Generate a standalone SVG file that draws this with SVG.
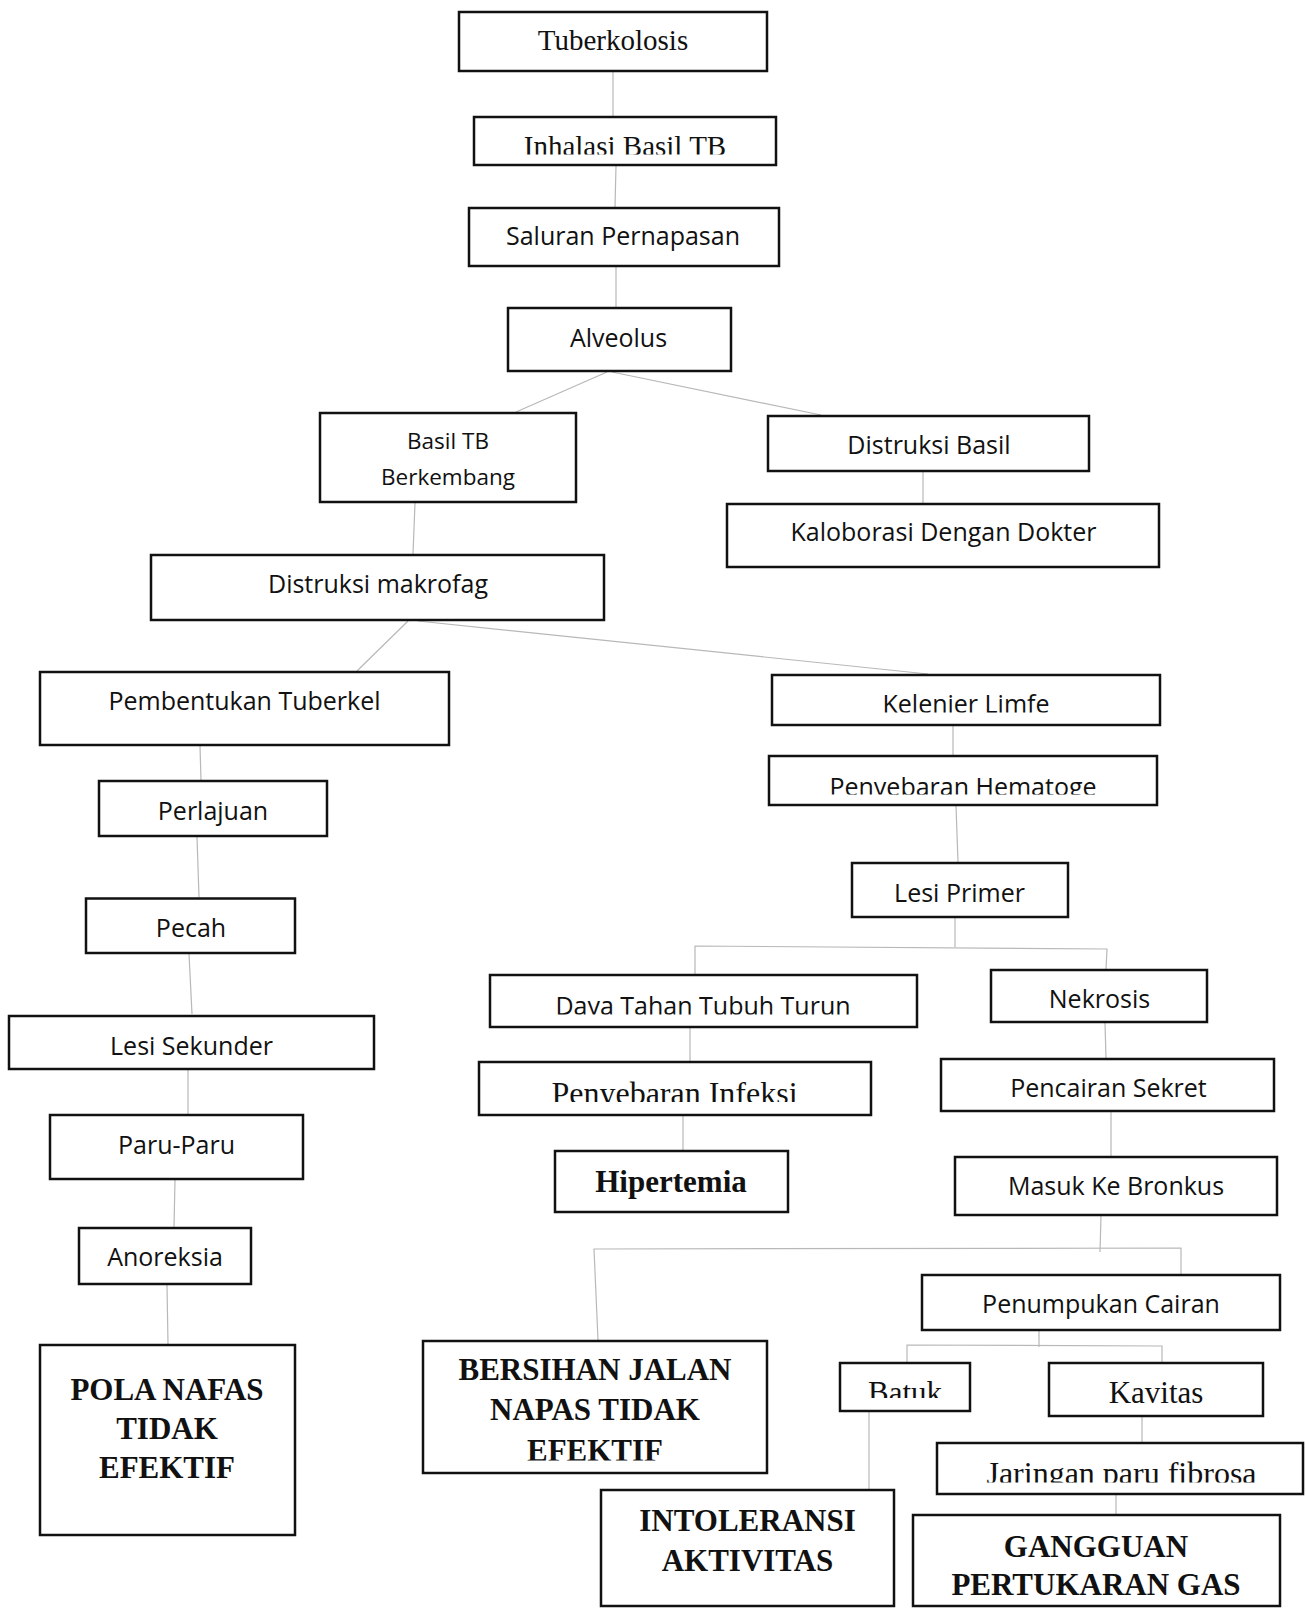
<svg xmlns="http://www.w3.org/2000/svg" width="1306" height="1609" viewBox="0 0 1306 1609">
<style>
.box{fill:#fff;stroke:#111;stroke-width:2.5}
.c{stroke:#b8b8b8;stroke-width:1.2;fill:none}
.s{font-family:'Open Sans',sans-serif;font-size:25px;text-anchor:middle;fill:#111}
.r{font-family:'Liberation Serif',serif;font-size:31px;text-anchor:middle;fill:#111}
.b{font-family:'Liberation Serif',serif;font-weight:bold;font-size:31px;text-anchor:middle;fill:#111}
</style>
<defs>
<clipPath id="c-inh"><rect x="474" y="117" width="302" height="37.5"/></clipPath>
<clipPath id="c-kel"><rect x="772" y="676" width="388" height="36.5"/></clipPath>
<clipPath id="c-hem"><rect x="769" y="756" width="388" height="38.5"/></clipPath>
<clipPath id="c-daya"><rect x="490" y="975" width="427" height="39.5"/></clipPath>
<clipPath id="c-inf"><rect x="479" y="1062" width="392" height="40"/></clipPath>
<clipPath id="c-ber"><rect x="423" y="1341" width="344" height="119.5"/></clipPath>
<clipPath id="c-bat"><rect x="840" y="1363" width="130" height="35"/></clipPath>
<clipPath id="c-jar"><rect x="937" y="1443" width="366" height="39.5"/></clipPath>
</defs>
<rect width="1306" height="1609" fill="#fff"/>
<g id="connectors">
<line class="c" x1="613" y1="72" x2="613" y2="116"/>
<line class="c" x1="616" y1="166" x2="615" y2="207"/>
<line class="c" x1="616" y1="267" x2="616" y2="307"/>
<line class="c" x1="607" y1="372" x2="516" y2="412"/>
<line class="c" x1="612" y1="372" x2="821" y2="415"/>
<line class="c" x1="415" y1="503" x2="413" y2="554"/>
<line class="c" x1="923" y1="472" x2="923" y2="503"/>
<line class="c" x1="408" y1="621" x2="357" y2="671"/>
<line class="c" x1="418" y1="621" x2="928" y2="674"/>
<line class="c" x1="200" y1="746" x2="201" y2="780"/>
<line class="c" x1="953" y1="726" x2="953" y2="755"/>
<line class="c" x1="956" y1="806" x2="958" y2="862"/>
<line class="c" x1="197" y1="837" x2="199" y2="897"/>
<line class="c" x1="189" y1="954" x2="192" y2="1014"/>
<line class="c" x1="188" y1="1070" x2="188" y2="1114"/>
<line class="c" x1="175" y1="1180" x2="174" y2="1227"/>
<line class="c" x1="955" y1="918" x2="955" y2="947"/>
<polyline class="c" points="695,974 695,946 1107,949 1106,969"/>
<line class="c" x1="690" y1="1028" x2="690" y2="1061"/>
<line class="c" x1="683" y1="1116" x2="683" y2="1150"/>
<line class="c" x1="1105" y1="1023" x2="1106" y2="1058"/>
<line class="c" x1="1111" y1="1112" x2="1111" y2="1156"/>
<line class="c" x1="1101" y1="1216" x2="1100" y2="1252"/>
<polyline class="c" points="598,1340 594,1249 1181,1248 1181,1274"/>
<line class="c" x1="167" y1="1285" x2="168" y2="1344"/>
<line class="c" x1="1039" y1="1331" x2="1039" y2="1347"/>
<polyline class="c" points="907,1362 907,1345 1162,1346 1162,1362"/>
<line class="c" x1="869" y1="1412" x2="869" y2="1493"/>
<line class="c" x1="1142" y1="1417" x2="1142" y2="1442"/>
<line class="c" x1="1116" y1="1495" x2="1116" y2="1514"/>
</g>
<g id="tuberkolosis"><rect class="box" x="459" y="12" width="308" height="59"/><text class="r" x="613" y="50" style="font-size:29px">Tuberkolosis</text></g>
<g id="inhalasi"><rect class="box" x="474" y="117" width="302" height="48"/><text class="r" x="625" y="156" style="font-size:29px" clip-path="url(#c-inh)">Inhalasi Basil TB</text></g>
<g id="saluran"><rect class="box" x="469" y="208" width="310" height="58"/><text class="s" x="623" y="245">Saluran Pernapasan</text></g>
<g id="alveolus"><rect class="box" x="508" y="308" width="223" height="63"/><text class="s" x="618.5" y="347">Alveolus</text></g>
<g id="basil-tb"><rect class="box" x="320" y="413" width="256" height="89"/><text class="s" x="448" y="449" style="font-size:22.5px">Basil TB</text><text class="s" x="448" y="485" style="font-size:22.5px">Berkembang</text></g>
<g id="distruksi-basil"><rect class="box" x="768" y="416" width="321" height="55"/><text class="s" x="929" y="454">Distruksi Basil</text></g>
<g id="kaloborasi"><rect class="box" x="727" y="504" width="432" height="63"/><text class="s" x="943.5" y="541">Kaloborasi Dengan Dokter</text></g>
<g id="distruksi-makrofag"><rect class="box" x="151" y="555" width="453" height="65"/><text class="s" x="378" y="593">Distruksi makrofag</text></g>
<g id="pembentukan"><rect class="box" x="40" y="672" width="409" height="73"/><text class="s" x="244.5" y="710">Pembentukan Tuberkel</text></g>
<g id="kelenjer"><rect class="box" x="772" y="675" width="388" height="50"/><text class="s" x="966" y="712.5" clip-path="url(#c-kel)">Kelenjer Limfe</text></g>
<g id="hematogen"><rect class="box" x="769" y="756" width="388" height="49"/><text class="s" x="963" y="795.5" clip-path="url(#c-hem)">Penyebaran Hematoge</text></g>
<g id="perlajuan"><rect class="box" x="99" y="781" width="228" height="55"/><text class="s" x="213" y="819.5">Perlajuan</text></g>
<g id="lesi-primer"><rect class="box" x="852" y="863" width="216" height="54"/><text class="s" x="959.5" y="902">Lesi Primer</text></g>
<g id="pecah"><rect class="box" x="86" y="898.5" width="209" height="54.5"/><text class="s" x="191" y="937">Pecah</text></g>
<g id="daya-tahan"><rect class="box" x="490" y="975" width="427" height="52"/><text class="s" x="703" y="1015" clip-path="url(#c-daya)">Daya Tahan Tubuh Turun</text></g>
<g id="nekrosis"><rect class="box" x="991" y="970" width="216" height="52"/><text class="s" x="1099.5" y="1008">Nekrosis</text></g>
<g id="lesi-sekunder"><rect class="box" x="9" y="1016" width="365" height="53"/><text class="s" x="191.5" y="1055">Lesi Sekunder</text></g>
<g id="penyebaran-infeksi"><rect class="box" x="479" y="1062" width="392" height="53"/><text class="r" x="674.5" y="1103.5" style="font-size:32px" clip-path="url(#c-inf)">Penyebaran Infeksi</text></g>
<g id="pencairan"><rect class="box" x="941" y="1059" width="333" height="52"/><text class="s" x="1108.5" y="1097">Pencairan Sekret</text></g>
<g id="paru"><rect class="box" x="50" y="1115" width="253" height="64"/><text class="s" x="176.5" y="1153.5">Paru-Paru</text></g>
<g id="hipertemia"><rect class="box" x="555" y="1151" width="233" height="61"/><text class="b" x="671" y="1192">Hipertemia</text></g>
<g id="masuk"><rect class="box" x="955" y="1157" width="322" height="58"/><text class="s" x="1116" y="1195">Masuk Ke Bronkus</text></g>
<g id="anoreksia"><rect class="box" x="79" y="1228" width="172" height="56"/><text class="s" x="165" y="1266">Anoreksia</text></g>
<g id="penumpukan"><rect class="box" x="922" y="1275" width="358" height="55"/><text class="s" x="1101" y="1313">Penumpukan Cairan</text></g>
<g id="pola-nafas"><rect class="box" x="40" y="1345" width="255" height="190"/><text class="b" x="167" y="1400">POLA NAFAS</text><text class="b" x="167" y="1439">TIDAK</text><text class="b" x="167" y="1478">EFEKTIF</text></g>
<g id="bersihan"><rect class="box" x="423" y="1341" width="344" height="132"/><g clip-path="url(#c-ber)"><text class="b" x="595" y="1380">BERSIHAN JALAN</text><text class="b" x="595" y="1420">NAPAS TIDAK</text><text class="b" x="595" y="1461">EFEKTIF</text></g></g>
<g id="batuk"><rect class="box" x="840" y="1363" width="130" height="48"/><text class="r" x="905" y="1402.5" clip-path="url(#c-bat)">Batuk</text></g>
<g id="kavitas"><rect class="box" x="1049" y="1363" width="214" height="53"/><text class="r" x="1156" y="1403">Kavitas</text></g>
<g id="jaringan"><rect class="box" x="937" y="1443" width="366" height="51"/><text class="r" x="1121.5" y="1483.5" style="font-size:32px" clip-path="url(#c-jar)">Jaringan paru fibrosa</text></g>
<g id="intoleransi"><rect class="box" x="601" y="1490" width="293" height="116"/><text class="b" x="747.5" y="1531">INTOLERANSI</text><text class="b" x="747.5" y="1571">AKTIVITAS</text></g>
<g id="gangguan"><rect class="box" x="913" y="1515" width="367" height="91"/><text class="b" x="1096" y="1557">GANGGUAN</text><text class="b" x="1096" y="1595">PERTUKARAN GAS</text></g>
</svg>
